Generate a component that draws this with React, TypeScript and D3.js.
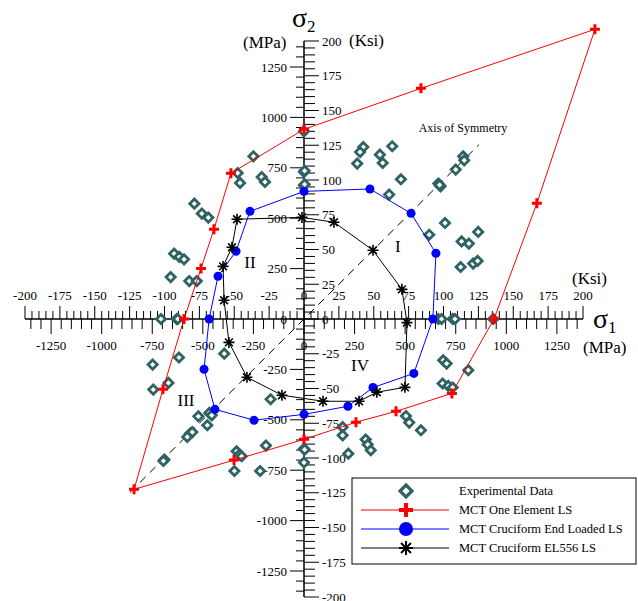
import React from "react";
import * as d3 from "d3";

// stresses in MPa, [sigma1, sigma2]
const KSI_TO_MPA = 6.895;

const oneElement: [number, number][] = [
  [1438, 1437], [578, 1144], [0, 941], [-361, 723], [-445, 445], [-509, 251],
  [-593, 0], [-697, -349], [-840, -845], [-346, -700], [0, -597], [257, -512],
  [455, -458], [731, -369], [939, 0], [1151, 574],
];

const endLoaded: [number, number][] = [
  [0, 633], [326, 645], [529, 524], [652, 326], [637, 0], [543, -270],
  [341, -340], [217, -433], [0, -473], [-247, -502], [-440, -448], [-494, -249],
  [-469, 0], [-425, 212], [-336, 336], [-267, 534],
];

const el556: [number, number][] = [
  [-10, 504], [148, 480], [341, 341], [484, 147], [509, -18], [499, -339],
  [360, -363], [272, -408], [94, -408], [-109, -378], [-282, -289], [-371, -116],
  [-395, 93], [-400, 261], [-356, 356], [-331, 495],
];

const experimental: [number, number][] = [
  [-250, 807], [-328, 724], [-316, 675], [-209, 704], [-193, 680], [0, 931],
  [0, 729], [3, 735], [0, 663], [3, 668], [293, 853], [277, 828], [263, 771],
  [375, 815], [389, 774], [436, 857], [479, 693], [664, 672], [675, 658],
  [670, 665], [750, 741], [787, 807], [792, 787], [421, 617], [697, 476],
  [619, 418], [861, 432], [779, 385], [815, 374], [774, 258], [836, 275],
  [858, 288], [664, 0], [680, 0], [735, 0], [746, 0], [935, 0], [688, -205],
  [705, -221], [812, -254], [685, -320], [713, -332], [735, -340], [191, -536],
  [191, -577], [219, -668], [305, -598], [315, -623], [330, -651], [504, -481],
  [520, -514], [578, -552], [-522, -483], [-478, -527], [-468, -466], [-456, -478],
  [-563, -568], [-552, -561], [-577, -585], [-690, -697], [-695, -704],
  [-333, -656], [-320, -673], [-308, -681], [-344, -754], [-217, -754],
  [-188, -628], [0, -643], [3, -648], [0, -712], [-542, 572], [-505, 523],
  [-473, 503], [-642, 324], [-616, 308], [-593, 296], [-659, 208], [-567, 188],
  [-530, 188], [-707, 0], [-629, 0], [-624, 0], [-618, -191], [-748, -226],
  [-670, -317], [-745, -350], [-394, -172], [-165, -398],
];

const symmetryEnds = [-860, 865];

const ksiTicks = d3.range(-200, 201, 5);
const ksiLabels = d3.range(-200, 201, 25);
const mpaTicks = d3.range(-1350, 1351, 50);
const mpaLabels = [-1250, -1000, -750, -500, -250, 0, 250, 500, 750, 1000, 1250];

const legendItems = ["Experimental Data", "MCT One Element LS", "MCT Cruciform End Loaded LS", "MCT Cruciform EL556 LS"];

const TEAL = "#2f6262";
const FONT = "'Liberation Serif', 'Times New Roman', serif";

function Diamond({ x, y, r = 4.6, sw = 2.8 }: { x: number; y: number; r?: number; sw?: number }) {
  return (
    <path
      d={`M${x},${y - r}L${x + r},${y}L${x},${y + r}L${x - r},${y}Z`}
      fill="white"
      stroke={TEAL}
      strokeWidth={sw}
    />
  );
}

function Cross({ x, y, r = 5, sw = 3 }: { x: number; y: number; r?: number; sw?: number }) {
  return <path d={`M${x - r},${y}H${x + r}M${x},${y - r}V${y + r}`} stroke="red" strokeWidth={sw} />;
}

function Star({ x, y, r = 5.5, sw = 1.6 }: { x: number; y: number; r?: number; sw?: number }) {
  const d = d3.range(4).map((i) => {
    const a = (i * Math.PI) / 4;
    const dx = r * Math.cos(a), dy = r * Math.sin(a);
    return `M${x - dx},${y - dy}L${x + dx},${y + dy}`;
  }).join("");
  return <path d={d} stroke="black" strokeWidth={sw} />;
}

export default function App() {
  const width = 638, height = 601;
  const x0 = 25, x1 = 583, yTop = 41, yBot = 597;

  const xKsi = d3.scaleLinear().domain([-200, 200]).range([x0, x1]);
  const yKsi = d3.scaleLinear().domain([-200, 200]).range([yBot, yTop]);
  const xMpa = d3.scaleLinear().domain([-200 * KSI_TO_MPA, 200 * KSI_TO_MPA]).range([x0, x1]);
  const yMpa = d3.scaleLinear().domain([-200 * KSI_TO_MPA, 200 * KSI_TO_MPA]).range([yBot, yTop]);

  const ox = xMpa(0), oy = yMpa(0);

  const line = d3.line<[number, number]>()
    .x((d) => xMpa(d[0]))
    .y((d) => yMpa(d[1]))
    .curve(d3.curveLinearClosed);

  const text = { fontFamily: FONT, fill: "black" } as const;

  return (
    <svg width={width} height={height} style={{ position: "absolute", left: 0, top: 0, background: "white" }}>
      {/* horizontal axis */}
      <line x1={x0} x2={x1} y1={oy} y2={oy} stroke="black" strokeWidth={1.5} />
      {ksiTicks.map((t) => (
        <line key={"kx" + t} x1={xKsi(t)} x2={xKsi(t)} y1={oy} y2={oy - (t % 25 === 0 ? 13 : 8)} stroke="black" />
      ))}
      {mpaTicks.map((t) => (
        <line key={"mx" + t} x1={xMpa(t)} x2={xMpa(t)} y1={oy} y2={oy + (t % 250 === 0 ? 15 : 10)} stroke="black" />
      ))}
      {ksiLabels.map((t) => (
        <text key={"kxl" + t} x={xKsi(t)} y={oy - 19} textAnchor="middle" fontSize={13} style={text}>{t}</text>
      ))}
      {mpaLabels.map((t) => (
        <text key={"mxl" + t} x={xMpa(t)} y={oy + 31} textAnchor="middle" fontSize={13} style={text}>{t}</text>
      ))}

      {/* vertical axis */}
      <line x1={ox} x2={ox} y1={yTop} y2={yBot} stroke="black" strokeWidth={1.5} />
      {ksiTicks.map((t) => (
        <line key={"ky" + t} x1={ox} x2={ox + (t % 25 === 0 ? 15 : 11)} y1={yKsi(t)} y2={yKsi(t)} stroke="black" />
      ))}
      {mpaTicks.map((t) => (
        <line key={"my" + t} x1={ox} x2={ox - (t % 250 === 0 ? 14 : 8)} y1={yMpa(t)} y2={yMpa(t)} stroke="black" />
      ))}
      {ksiLabels.map((t) => (
        <text key={"kyl" + t} x={ox + 18} y={yKsi(t)} dy="0.35em" textAnchor="start" fontSize={13} style={text}>{t}</text>
      ))}
      {mpaLabels.map((t) => (
        <text key={"myl" + t} x={ox - 17} y={yMpa(t)} dy="0.35em" textAnchor="end" fontSize={13} style={text}>{t}</text>
      ))}

      {/* axis titles */}
      <text x={ox - 12} y={27} fontSize={28} style={text}>σ<tspan fontSize={17} dy={5}>2</tspan></text>
      <text x={243} y={48} fontSize={17} style={text}>(MPa)</text>
      <text x={349} y={46} fontSize={17} style={text}>(Ksi)</text>
      <text x={593} y={328} fontSize={28} style={text}>σ<tspan fontSize={17} dy={5}>1</tspan></text>
      <text x={572} y={284} fontSize={17} style={text}>(Ksi)</text>
      <text x={583} y={353} fontSize={17} style={text}>(MPa)</text>

      {/* axis of symmetry */}
      <line
        x1={xMpa(symmetryEnds[0])} y1={yMpa(symmetryEnds[0])}
        x2={xMpa(symmetryEnds[1])} y2={yMpa(symmetryEnds[1])}
        stroke="black" strokeWidth={1} strokeDasharray="8,6"
      />
      <text x={463} y={132} textAnchor="middle" fontSize={12} style={text}>Axis of Symmetry</text>

      {/* quadrant labels */}
      <text x={xMpa(464)} y={yMpa(360)} dy="0.35em" textAnchor="middle" fontSize={17} style={text}>I</text>
      <text x={xMpa(-267)} y={yMpa(281)} dy="0.35em" textAnchor="middle" fontSize={17} style={text}>II</text>
      <text x={xMpa(-583)} y={yMpa(-403)} dy="0.35em" textAnchor="middle" fontSize={17} style={text}>III</text>
      <text x={xMpa(277)} y={yMpa(-230)} dy="0.35em" textAnchor="middle" fontSize={17} style={text}>IV</text>

      {/* experimental data */}
      {experimental.map((d, i) => (
        <Diamond key={"e" + i} x={xMpa(d[0])} y={yMpa(d[1])} />
      ))}

      {/* limit surfaces */}
      <path d={line(oneElement) ?? ""} fill="none" stroke="red" strokeWidth={1} />
      {oneElement.map((d, i) => <Cross key={"r" + i} x={xMpa(d[0])} y={yMpa(d[1])} />)}
      <path d={line(endLoaded) ?? ""} fill="none" stroke="blue" strokeWidth={1} />
      {endLoaded.map((d, i) => <circle key={"b" + i} cx={xMpa(d[0])} cy={yMpa(d[1])} r={4.5} fill="blue" />)}
      <path d={line(el556) ?? ""} fill="none" stroke="black" strokeWidth={1} />
      {el556.map((d, i) => <Star key={"k" + i} x={xMpa(d[0])} y={yMpa(d[1])} />)}

      {/* legend */}
      <g transform="translate(352,478)">
        <rect x={0} y={0} width={284} height={86} fill="white" stroke="black" strokeWidth={1} />
        {legendItems.map((name, i) => {
          const cy = 13 + i * 19;
          return (
            <g key={name}>
              {i > 0 && (
                <line x1={9} x2={97} y1={cy} y2={cy}
                  stroke={i === 1 ? "#ff5555" : i === 2 ? "#5555ff" : "#555555"} strokeWidth={1.5} />
              )}
              {i === 0 && <Diamond x={54} y={cy} r={6} sw={3.2} />}
              {i === 1 && <Cross x={54} y={cy} r={7} sw={4} />}
              {i === 2 && <circle cx={54} cy={cy} r={7} fill="blue" />}
              {i === 3 && <Star x={54} y={cy} r={7} sw={2} />}
              <text x={107} y={cy} dy="0.35em" fontSize={12.5} style={text}>{name}</text>
            </g>
          );
        })}
      </g>
    </svg>
  );
}
